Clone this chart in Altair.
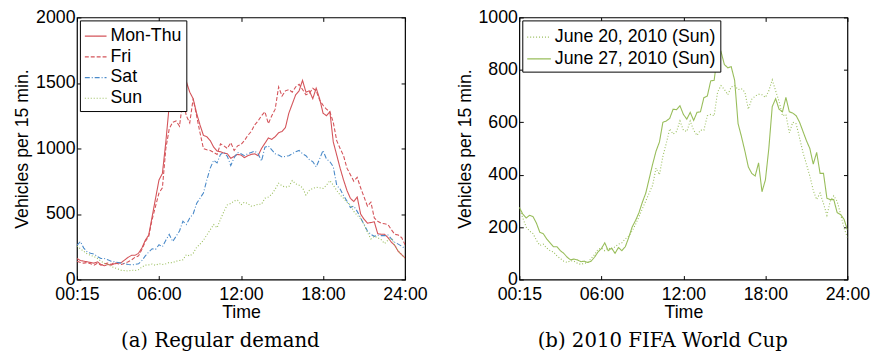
import altair as alt
import pandas as pd

# ---------------- data (vehicles per 15 min, every 15 min from 00:00 to 24:00) ----------------
hours = [i * 0.25 for i in range(97)]

mon_thu = [160, 145, 140, 135, 130, 125, 135, 115, 105, 115, 110, 120, 125, 130, 150, 170,
           185, 185, 200, 240, 300, 340, 480, 620, 760, 810, 1050, 1330, 1340, 1380, 1370, 1440,
           1510, 1430, 1380, 1270, 1180, 1100, 1090, 1060, 1010, 980, 975, 965, 960, 925, 940, 955,
           950, 930, 945, 955, 960, 945, 1000, 1040, 1080, 1070, 1090, 1120, 1130, 1160, 1270, 1340,
           1410, 1440, 1520, 1430, 1440, 1380, 1460, 1380, 1270, 1250, 1280, 1050, 950, 850, 760, 680,
           620, 595, 630, 500, 460, 430, 435, 440, 350, 345, 345, 320, 285, 260, 215, 190, 165]
fri = [140, 130, 125, 130, 120, 110, 125, 110, 120, 125, 115, 130, 120, 115, 125, 135,
       150, 170, 180, 230, 290, 330, 460, 560, 660, 700, 1000, 1150, 1200, 1210, 1170, 1370,
       1250, 1195, 1380, 1250, 1120, 1000, 990, 985, 970, 955, 1035, 1020, 1000, 1045, 985, 1020,
       1030, 1060, 1100, 1130, 1180, 1210, 1250, 1280, 1190, 1250, 1300, 1470, 1400, 1440, 1450, 1430,
       1470, 1490, 1450, 1410, 1420, 1460, 1440, 1370, 1330, 1300, 1280, 1200, 1060, 1000, 945, 850,
       800, 750, 780, 700, 630, 560, 590, 470, 445, 430, 425, 420, 380, 345, 340, 320, 265]
sat = [260, 290, 240, 210, 200, 195, 175, 160, 160, 150, 140, 135, 130, 125, 120, 115,
       112, 115, 120, 145, 180, 210, 235, 230, 265, 250, 300, 345, 290, 330, 370, 445,
       420, 470, 500, 580, 620, 660, 760, 850, 910, 890, 955, 970, 940, 870, 930, 970,
       960, 945, 960, 970, 980, 960, 905, 1010, 1020, 990, 960, 950, 935, 940, 945, 960,
       975, 985, 960, 945, 915, 900, 860, 920, 985, 920, 900, 860, 720, 690, 640, 600,
       550, 560, 520, 470, 420, 370, 345, 330, 340, 335, 335, 340, 310, 285, 270, 255, 235]
sun = [255, 235, 215, 195, 185, 175, 160, 140, 125, 115, 100, 90, 80, 70, 68, 65,
       72, 68, 75, 95, 110, 112, 118, 108, 122, 115, 120, 130, 128, 140, 145, 150,
       190, 180, 200, 245, 270, 300, 340, 380, 420, 395, 460, 520, 570, 580, 600, 605,
       570, 590, 580, 560, 565, 575, 575, 620, 630, 650, 690, 735, 715, 705, 710, 755,
       730, 720, 700, 645, 680, 695, 705, 700, 695, 720, 755, 720, 680, 645, 620, 590,
       570, 520, 490, 465, 420, 360, 310, 330, 320, 305, 275, 300, 315, 260, 220, 190, 160]

june20 = [275, 235, 200, 185, 175, 150, 130, 135, 120, 110, 105, 90, 80, 70, 65, 72,
          70, 62, 58, 62, 65, 80, 95, 115, 120, 110, 120, 115, 125, 135, 140, 155,
          165, 185, 210, 240, 270, 300, 330, 360, 425, 400, 470, 520, 575, 555, 565, 605,
          570, 565, 605, 570, 550, 570, 570, 625, 630, 625, 715, 740, 725, 705, 735, 740,
          725, 728, 715, 650, 688, 700, 707, 705, 695, 720, 762, 720, 680, 625, 630, 560,
          600, 594, 540, 485, 440, 395, 340, 305, 330, 290, 245, 300, 320, 298, 250, 197, 160]
june27 = [275, 250, 235, 245, 240, 215, 180, 175, 155, 140, 125, 125, 110, 100, 85, 75,
          78, 75, 68, 70, 65, 70, 85, 105, 118, 140, 110, 120, 100, 122, 110, 125,
          160, 200, 225, 255, 295, 330, 385, 440, 490, 525, 600, 605, 615, 650, 648, 663,
          630, 612, 638, 607, 638, 640, 694, 700, 758, 760, 860, 870, 820, 808, 812, 760,
          595, 545, 490, 430, 405, 395, 445, 335, 380, 500, 660, 690, 650, 640, 695, 640,
          635, 625, 600, 565, 530, 500, 440, 485, 405, 405, 310, 305, 305, 255, 248, 230, 190]

left_names = ["Mon-Thu", "Fri", "Sat", "Sun"]
left_series = [mon_thu, fri, sat, sun]
right_names = ["June 20, 2010 (Sun)", "June 27, 2010 (Sun)"]
right_series = [june20, june27]

x_ticks = [0, 6, 12, 18, 24]
left_y_ticks = [0, 500, 1000, 1500, 2000]
right_y_ticks = [0, 200, 400, 600, 800, 1000]

RED = "#d4545a"
BLUE = "#4a8ac9"
GREEN = "#98bd5a"


def to_long(names, series):
    rows = []
    for order, (n, vals) in enumerate(zip(names, series)):
        for h, v in zip(hours, vals):
            rows.append({"hour": h, "value": v, "series": n, "order": order})
    return pd.DataFrame(rows)


left_df = to_long(left_names, left_series)
right_df = to_long(right_names, right_series)

X_LABEL = "datum.value == 0 ? '00:15' : (datum.value < 10 ? '0' : '') + datum.value + ':00'"
TICK = 4


def panel(df, names, colors, dashes, y_max, y_ticks, caption, sym_size):
    xs = alt.Scale(domain=[0, 24], nice=False, zero=False)
    ys = alt.Scale(domain=[0, y_max], nice=False)
    lines = alt.Chart(df).mark_line(strokeWidth=1.1, clip=True).encode(
        x=alt.X("hour:Q", scale=xs,
                axis=alt.Axis(values=x_ticks, labelExpr=X_LABEL, title="Time", orient="bottom",
                              tickSize=TICK, offset=-TICK, labelPadding=6, titlePadding=1,
                              labelFlush=False, labelOverlap=False)),
        y=alt.Y("value:Q", scale=ys,
                axis=alt.Axis(values=y_ticks, format="d", title="Vehicles per 15 min.",
                              orient="left", tickSize=TICK, offset=-TICK, labelPadding=2,
                              titlePadding=4, labelOverlap=False)),
        color=alt.Color("series:N", scale=alt.Scale(domain=names, range=colors),
                        legend=alt.Legend(title=None, symbolSize=sym_size)),
        strokeDash=alt.StrokeDash("series:N", scale=alt.Scale(domain=names, range=dashes),
                                  legend=alt.Legend(title=None, symbolSize=sym_size)),
        order="order:Q",
        detail="series:N",
    )
    frame = alt.Chart(df).mark_line(opacity=0).encode(
        x=alt.X("hour:Q", scale=xs,
                axis=alt.Axis(values=x_ticks, labels=False, title=None, orient="top",
                              tickSize=TICK, offset=-TICK)),
        y=alt.Y("value:Q", scale=ys,
                axis=alt.Axis(values=y_ticks, labels=False, title=None, orient="right",
                              tickSize=TICK, offset=-TICK)),
        detail="series:N",
    )
    return alt.layer(lines, frame).resolve_axis(x="independent", y="independent").properties(
        width=333, height=266,
        title=alt.TitleParams(caption, orient="bottom", anchor="middle", font="DejaVu Serif",
                              fontSize=20, fontWeight="normal", color="black", offset=9, dx=-21),
    )


left = panel(left_df, left_names, [RED, RED, BLUE, GREEN],
             [[1, 0], [4, 2], [5, 2, 1, 2], [1, 2]], 2000, left_y_ticks,
             "(a)  Regular demand", 484)
right = panel(right_df, right_names, [GREEN, GREEN],
              [[1, 2], [1, 0]], 1000, right_y_ticks,
              "(b)  2010 FIFA World Cup", 576)

chart = alt.hconcat(left, right, spacing=116, bounds="flush").resolve_scale(
    color="independent", strokeDash="independent"
).configure(
    padding={"left": 5, "right": 5, "top": -3, "bottom": 0},
).configure_view(
    stroke="black", strokeWidth=1.2
).configure_axis(
    labelFont="Liberation Sans", titleFont="Liberation Sans",
    labelFontSize=18, titleFontSize=18, titleFontWeight="normal",
    labelColor="black", titleColor="black", tickColor="black", tickWidth=1,
    domain=False, grid=False,
).configure_legend(
    orient="top-left", offset=3, padding=4, strokeColor="black", fillColor="white",
    cornerRadius=0, symbolType="stroke", symbolStrokeWidth=1.2, labelOffset=3,
    labelFont="Liberation Sans", labelFontSize=18, labelColor="black", rowPadding=0,
    labelLimit=0,
)

chart.save("out.html", embed_options={"renderer": "svg", "actions": False})
